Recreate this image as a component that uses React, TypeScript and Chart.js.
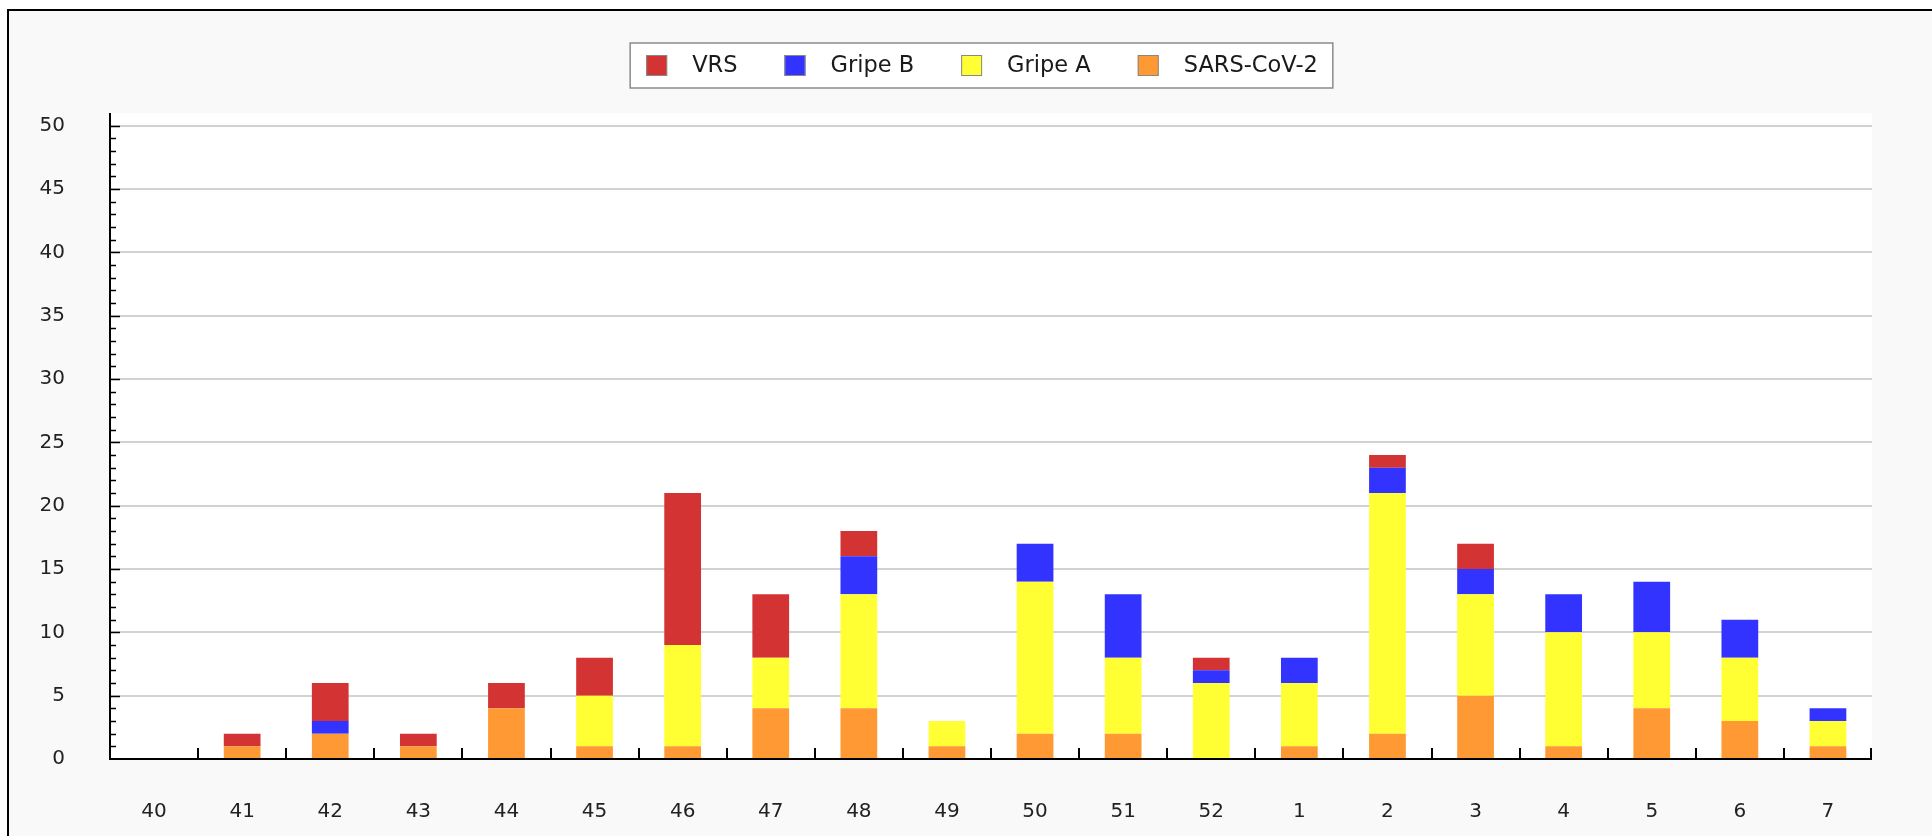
import React, { useEffect, useRef } from 'react';
import { Chart, registerables } from 'chart.js';

Chart.register(...registerables);

const weeks = ['40', '41', '42', '43', '44', '45', '46', '47', '48', '49', '50', '51', '52', '1', '2', '3', '4', '5', '6', '7'];
const sarsCov2 = [0, 1, 2, 1, 4, 1, 1, 4, 4, 1, 2, 2, 0, 1, 2, 5, 1, 4, 3, 1];
const gripeA = [0, 0, 0, 0, 0, 4, 8, 4, 9, 2, 12, 6, 6, 5, 19, 8, 9, 6, 5, 2];
const gripeB = [0, 0, 1, 0, 0, 0, 0, 0, 3, 0, 3, 5, 1, 2, 2, 2, 3, 4, 3, 1];
const vrs = [0, 1, 3, 1, 2, 3, 12, 5, 2, 0, 0, 0, 1, 0, 1, 2, 0, 0, 0, 0];
const yTickValues = [0, 5, 10, 15, 20, 25, 30, 35, 40, 45, 50];

const W = 1932;
const H = 836;
const FONT = '"DejaVu Sans", sans-serif';

const decorPlugin = {
  id: 'decor',
  beforeDraw(chart: any) {
    const ctx = chart.ctx;
    const a = chart.chartArea;
    ctx.save();
    ctx.fillStyle = '#ffffff';
    ctx.fillRect(0, 0, W, H);
    ctx.fillStyle = '#f9f9f9';
    ctx.fillRect(7, 9, W, H);
    ctx.fillStyle = '#000000';
    ctx.fillRect(7, 9, W, 2);
    ctx.fillRect(7, 9, 2, H);
    ctx.fillStyle = '#ffffff';
    ctx.fillRect(a.left, a.top, a.right - a.left, a.bottom - a.top);
    ctx.restore();
  },
  afterDraw(chart: any) {
    const ctx = chart.ctx;
    const a = chart.chartArea;
    const xs = chart.scales.x;
    const ys = chart.scales.y;
    ctx.save();
    ctx.strokeStyle = '#000000';
    ctx.lineWidth = 2;
    // axes
    ctx.beginPath();
    ctx.moveTo(a.left, a.top);
    ctx.lineTo(a.left, a.bottom);
    ctx.lineTo(a.right, a.bottom);
    ctx.stroke();
    // y ticks (inside)
    ctx.lineWidth = 1.5;
    for (let v = 1; v <= 50; v++) {
      const y = Math.round(ys.getPixelForValue(v)) + 0.5;
      const len = v % 5 === 0 ? 10 : 6;
      ctx.beginPath();
      ctx.moveTo(a.left, y);
      ctx.lineTo(a.left + len, y);
      ctx.stroke();
    }
    // x ticks at category boundaries
    ctx.lineWidth = 2;
    const n = weeks.length;
    for (let i = 1; i <= n; i++) {
      const x = i < n ? (xs.getPixelForValue(i - 1) + xs.getPixelForValue(i)) / 2 : a.right - 1;
      ctx.beginPath();
      ctx.moveTo(Math.round(x), a.bottom);
      ctx.lineTo(Math.round(x), a.bottom - 11);
      ctx.stroke();
    }
    // legend
    const items = chart.data.datasets.slice().reverse();
    ctx.font = '22.5px ' + FONT;
    const sw = 21;
    const gapText = 25;
    const gapItem = 47;
    const padL = 16;
    const padR = 15;
    let total = 0;
    items.forEach((d: any, i: number) => {
      total += sw + gapText + ctx.measureText(d.label).width + (i < items.length - 1 ? gapItem : 0);
    });
    const boxW = total + padL + padR;
    const cx = 981.5;
    const bx = cx - boxW / 2;
    const by = 43;
    const bh = 45;
    ctx.fillStyle = '#ffffff';
    ctx.fillRect(bx, by, boxW, bh);
    ctx.strokeStyle = '#8a8a8a';
    ctx.lineWidth = 1.5;
    ctx.strokeRect(bx, by, boxW, bh);
    let x = bx + padL;
    const cy = by + bh / 2;
    ctx.textBaseline = 'middle';
    ctx.textAlign = 'left';
    items.forEach((d: any) => {
      ctx.fillStyle = d.backgroundColor;
      ctx.fillRect(x, cy - sw / 2, sw, sw);
      ctx.strokeStyle = '#888888';
      ctx.lineWidth = 1;
      ctx.strokeRect(x + 0.5, cy - sw / 2 + 0.5, sw - 1, sw - 1);
      x += sw + gapText;
      ctx.fillStyle = '#1a1a1a';
      ctx.fillText(d.label, x, cy + 1);
      x += ctx.measureText(d.label).width + gapItem;
    });
    ctx.restore();
  },
};

export default function App() {
  const ref = useRef<HTMLCanvasElement | null>(null);
  useEffect(() => {
    if (!ref.current) return;
    const chart = new Chart(ref.current, {
      type: 'bar',
      data: {
        labels: weeks,
        datasets: [
          { label: 'SARS-CoV-2', data: sarsCov2, backgroundColor: '#ff9933' },
          { label: 'Gripe A', data: gripeA, backgroundColor: '#ffff33' },
          { label: 'Gripe B', data: gripeB, backgroundColor: '#3333ff' },
          { label: 'VRS', data: vrs, backgroundColor: '#d43333' },
        ],
      },
      options: {
        responsive: false,
        animation: false,
        devicePixelRatio: 1,
        layout: { padding: { left: 0, top: 113, right: W - 1872, bottom: 0 } },
        datasets: { bar: { categoryPercentage: 1, barPercentage: 0.417, borderWidth: 0 } },
        plugins: { legend: { display: false }, tooltip: { enabled: false }, title: { display: false } },
        scales: {
          x: {
            stacked: true,
            grid: { display: false, drawTicks: false },
            border: { display: false },
            ticks: { font: { family: FONT, size: 20 }, color: '#222222', padding: 41, maxRotation: 0, autoSkip: false },
            afterFit: (s: any) => { s.height = H - 759; },
          },
          y: {
            stacked: true,
            min: 0,
            max: 51,
            afterBuildTicks: (s: any) => { s.ticks = yTickValues.map((v) => ({ value: v })); },
            grid: { color: '#d2d2d2', lineWidth: 2, drawTicks: false },
            border: { display: false },
            ticks: { font: { family: FONT, size: 20 }, color: '#222222', padding: 45 },
            afterFit: (s: any) => { s.width = 110; },
          },
        },
      },
      plugins: [decorPlugin],
    } as any);
    return () => chart.destroy();
  }, []);
  return (
    <canvas
      ref={ref}
      width={W}
      height={H}
      style={{ position: 'fixed', left: 0, top: 0, width: W, height: H, display: 'block' }}
    />
  );
}
